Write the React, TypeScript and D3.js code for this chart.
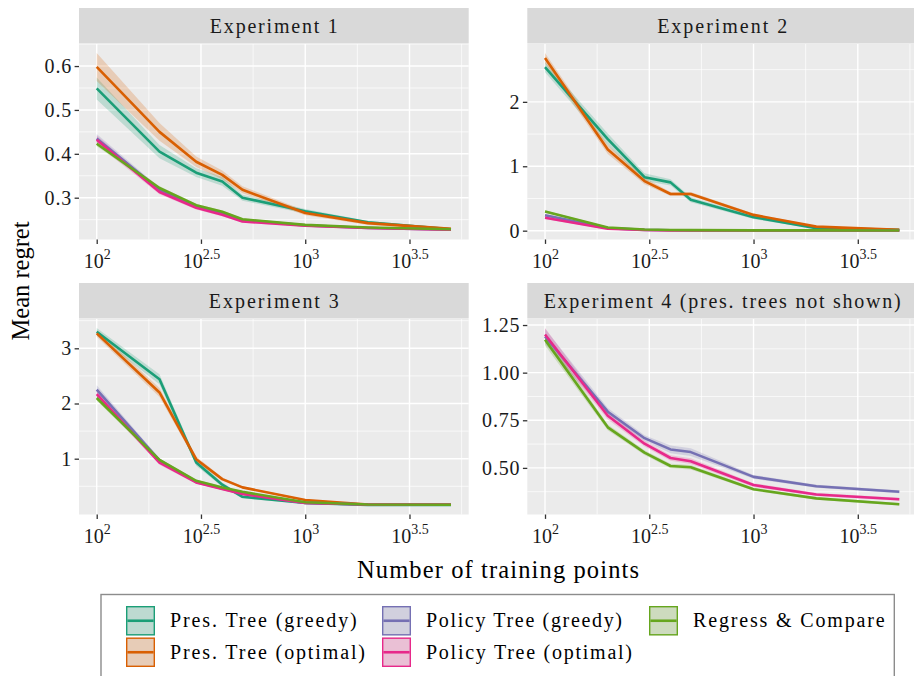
import React, { useEffect, useRef } from 'react';
import * as d3 from 'd3';

const trainingPoints = [100, 200, 300, 400, 500, 1000, 2000, 5000];

const methodNames = [
  'Pres. Tree (greedy)',
  'Pres. Tree (optimal)',
  'Policy Tree (greedy)',
  'Policy Tree (optimal)',
  'Regress & Compare',
];
const methodColors = ['#1B9E77', '#D95F02', '#7570B3', '#E7298A', '#66A61E'];

// Experiment 1
const e1PresGreedy = [0.549, 0.405, 0.357, 0.337, 0.3, 0.269, 0.244, 0.228];
const e1PresOptimal = [0.598, 0.45, 0.382, 0.352, 0.318, 0.265, 0.242, 0.229];
const e1PolicyGreedy = [0.435, 0.318, 0.28, 0.264, 0.249, 0.237, 0.231, 0.227];
const e1PolicyOptimal = [0.432, 0.313, 0.277, 0.261, 0.246, 0.236, 0.231, 0.227];
const e1Regress = [0.423, 0.322, 0.283, 0.268, 0.251, 0.238, 0.232, 0.228];
const e1PresGreedyErr = [0.025, 0.015, 0.01, 0.01, 0.007, 0.005, 0.003, 0.003];
const e1PresOptimalErr = [0.032, 0.02, 0.012, 0.01, 0.008, 0.005, 0.004, 0.003];
const e1PolicyGreedyErr = [0.01, 0.005, 0.004, 0.003, 0.003, 0.002, 0.002, 0.002];
const e1PolicyOptimalErr = [0.01, 0.005, 0.004, 0.003, 0.003, 0.002, 0.002, 0.002];
const e1RegressErr = [0.006, 0.004, 0.003, 0.003, 0.002, 0.002, 0.002, 0.002];

// Experiment 2
const e2PresGreedy = [2.54, 1.42, 0.83, 0.75, 0.48, 0.21, 0.04, 0.012];
const e2PresOptimal = [2.68, 1.26, 0.77, 0.57, 0.57, 0.245, 0.063, 0.012];
const e2PolicyGreedy = [0.24, 0.04, 0.012, 0.006, 0.005, 0.004, 0.003, 0.003];
const e2PolicyOptimal = [0.2, 0.03, 0.01, 0.005, 0.004, 0.003, 0.003, 0.003];
const e2Regress = [0.297, 0.05, 0.018, 0.01, 0.008, 0.005, 0.004, 0.003];
const e2PresGreedyErr = [0.08, 0.09, 0.06, 0.05, 0.04, 0.03, 0.01, 0.008];
const e2PresOptimalErr = [0.08, 0.07, 0.05, 0.03, 0.03, 0.02, 0.01, 0.008];
const e2PolicyGreedyErr = [0.02, 0.01, 0.005, 0.003, 0.002, 0.002, 0.001, 0.001];
const e2PolicyOptimalErr = [0.02, 0.01, 0.005, 0.003, 0.002, 0.002, 0.001, 0.001];
const e2RegressErr = [0.02, 0.01, 0.005, 0.003, 0.002, 0.002, 0.001, 0.001];

// Experiment 3
const e3PresGreedy = [3.3, 2.44, 0.93, 0.53, 0.31, 0.2, 0.16, 0.16];
const e3PresOptimal = [3.27, 2.2, 0.99, 0.63, 0.48, 0.25, 0.17, 0.17];
const e3PolicyGreedy = [2.25, 0.97, 0.58, 0.46, 0.37, 0.2, 0.17, 0.165];
const e3PolicyOptimal = [2.17, 0.93, 0.57, 0.45, 0.36, 0.2, 0.17, 0.165];
const e3Regress = [2.1, 0.98, 0.6, 0.48, 0.4, 0.21, 0.17, 0.165];
const e3PresGreedyErr = [0.07, 0.09, 0.06, 0.04, 0.03, 0.015, 0.01, 0.01];
const e3PresOptimalErr = [0.06, 0.08, 0.05, 0.03, 0.02, 0.015, 0.01, 0.01];
const e3PolicyGreedyErr = [0.08, 0.04, 0.03, 0.02, 0.02, 0.01, 0.01, 0.01];
const e3PolicyOptimalErr = [0.07, 0.04, 0.03, 0.02, 0.02, 0.01, 0.01, 0.01];
const e3RegressErr = [0.05, 0.03, 0.02, 0.02, 0.015, 0.01, 0.01, 0.01];

// Experiment 4 (pres. trees not shown)
const e4PolicyGreedy = [1.19, 0.795, 0.656, 0.597, 0.583, 0.453, 0.404, 0.375];
const e4PolicyOptimal = [1.2, 0.774, 0.627, 0.552, 0.535, 0.41, 0.36, 0.335];
const e4Regress = [1.173, 0.713, 0.58, 0.51, 0.503, 0.388, 0.34, 0.309];
const e4PolicyGreedyErr = [0.04, 0.02, 0.015, 0.02, 0.02, 0.01, 0.008, 0.008];
const e4PolicyOptimalErr = [0.035, 0.02, 0.015, 0.015, 0.015, 0.01, 0.008, 0.008];
const e4RegressErr = [0.03, 0.015, 0.012, 0.012, 0.012, 0.008, 0.007, 0.007];

const e1Ticks = [0.3, 0.4, 0.5, 0.6];
const e1TickLabels = ['0.3', '0.4', '0.5', '0.6'];
const e2Ticks = [0, 1, 2];
const e2TickLabels = ['0', '1', '2'];
const e3Ticks = [1, 2, 3];
const e3TickLabels = ['1', '2', '3'];
const e4Ticks = [0.5, 0.75, 1.0, 1.25];
const e4TickLabels = ['0.50', '0.75', '1.00', '1.25'];

const xTickPowers = [2, 2.5, 3, 3.5];
const xTickLabels = ['2', '2.5', '3', '3.5'];

const FONT = '"Liberation Serif", "Times New Roman", serif';

type Series = { method: number; mean: number[]; err: number[] };
type Panel = { title: string; titleWidth: number; series: Series[]; ticks: number[]; tickLabels: string[] };

const panels: Panel[] = [
  {
    title: 'Experiment 1', titleWidth: 128,
    series: [
      { method: 0, mean: e1PresGreedy, err: e1PresGreedyErr },
      { method: 1, mean: e1PresOptimal, err: e1PresOptimalErr },
      { method: 2, mean: e1PolicyGreedy, err: e1PolicyGreedyErr },
      { method: 3, mean: e1PolicyOptimal, err: e1PolicyOptimalErr },
      { method: 4, mean: e1Regress, err: e1RegressErr },
    ],
    ticks: e1Ticks, tickLabels: e1TickLabels,
  },
  {
    title: 'Experiment 2', titleWidth: 130,
    series: [
      { method: 0, mean: e2PresGreedy, err: e2PresGreedyErr },
      { method: 1, mean: e2PresOptimal, err: e2PresOptimalErr },
      { method: 2, mean: e2PolicyGreedy, err: e2PolicyGreedyErr },
      { method: 3, mean: e2PolicyOptimal, err: e2PolicyOptimalErr },
      { method: 4, mean: e2Regress, err: e2RegressErr },
    ],
    ticks: e2Ticks, tickLabels: e2TickLabels,
  },
  {
    title: 'Experiment 3', titleWidth: 130,
    series: [
      { method: 0, mean: e3PresGreedy, err: e3PresGreedyErr },
      { method: 1, mean: e3PresOptimal, err: e3PresOptimalErr },
      { method: 2, mean: e3PolicyGreedy, err: e3PolicyGreedyErr },
      { method: 3, mean: e3PolicyOptimal, err: e3PolicyOptimalErr },
      { method: 4, mean: e3Regress, err: e3RegressErr },
    ],
    ticks: e3Ticks, tickLabels: e3TickLabels,
  },
  {
    title: 'Experiment 4 (pres. trees not shown)', titleWidth: 357,
    series: [
      { method: 2, mean: e4PolicyGreedy, err: e4PolicyGreedyErr },
      { method: 3, mean: e4PolicyOptimal, err: e4PolicyOptimalErr },
      { method: 4, mean: e4Regress, err: e4RegressErr },
    ],
    ticks: e4Ticks, tickLabels: e4TickLabels,
  },
];

const legendWidths = [186.7, 195, 196, 206, 191.7];

export default function App() {
  const ref = useRef<SVGSVGElement>(null);

  useEffect(() => {
    const svg = d3.select(ref.current);
    svg.selectAll('*').remove();

    const colX = [79, 527.3];
    const rowY = [44, 319];
    const plotW = 389.7;
    const plotH = 195.5;
    const stripH = 35.5;

    const lmin = Math.log10(d3.min(trainingPoints) as number);
    const lmax = Math.log10(d3.max(trainingPoints) as number);
    const pad = 0.05 * (lmax - lmin);

    panels.forEach((p, i) => {
      const x0 = colX[i % 2];
      const y0 = rowY[Math.floor(i / 2)];

      const x = d3.scaleLog()
        .domain([10 ** (lmin - pad), 10 ** (lmax + pad)])
        .range([0, plotW]);

      const lo = d3.min(p.series, (s) => d3.min(s.mean, (m, k) => m - s.err[k])) as number;
      const hi = d3.max(p.series, (s) => d3.max(s.mean, (m, k) => m + s.err[k])) as number;
      const yp = 0.05 * (hi - lo);
      const y = d3.scaleLinear().domain([lo - yp, hi + yp]).range([plotH, 0]);

      const g = svg.append('g').attr('transform', `translate(${x0},${y0})`);

      g.append('rect')
        .attr('width', plotW)
        .attr('height', plotH)
        .attr('fill', '#EBEBEB');

      // minor grid
      const step = p.ticks[1] - p.ticks[0];
      const yMinor = d3.range(p.ticks[0] - step / 2, p.ticks[p.ticks.length - 1] + step, step)
        .filter((v) => v >= y.domain()[0] && v <= y.domain()[1]);
      g.selectAll('.ymin').data(yMinor).enter().append('line')
        .attr('x1', 0).attr('x2', plotW)
        .attr('y1', (d) => y(d)).attr('y2', (d) => y(d))
        .attr('stroke', 'white').attr('stroke-width', 0.7);
      const xMinor = [1.75, 2.25, 2.75, 3.25, 3.75].map((e) => 10 ** e)
        .filter((v) => v >= x.domain()[0] && v <= x.domain()[1]);
      g.selectAll('.xmin').data(xMinor).enter().append('line')
        .attr('y1', 0).attr('y2', plotH)
        .attr('x1', (d) => x(d)).attr('x2', (d) => x(d))
        .attr('stroke', 'white').attr('stroke-width', 0.7);

      // major grid
      g.selectAll('.ymaj').data(p.ticks).enter().append('line')
        .attr('x1', 0).attr('x2', plotW)
        .attr('y1', (d) => y(d)).attr('y2', (d) => y(d))
        .attr('stroke', 'white').attr('stroke-width', 1.4);
      g.selectAll('.xmaj').data(xTickPowers).enter().append('line')
        .attr('y1', 0).attr('y2', plotH)
        .attr('x1', (d) => x(10 ** d)).attr('x2', (d) => x(10 ** d))
        .attr('stroke', 'white').attr('stroke-width', 1.4);

      // ribbons first, then lines
      const area = d3.area<number>()
        .x((_, k) => x(trainingPoints[k]));
      p.series.forEach((s) => {
        g.append('path')
          .datum(s.mean)
          .attr('d', area
            .y0((m, k) => y(m - s.err[k]))
            .y1((m, k) => y(m + s.err[k])))
          .attr('fill', methodColors[s.method])
          .attr('fill-opacity', 0.22);
      });
      const line = d3.line<number>()
        .x((_, k) => x(trainingPoints[k]))
        .y((m) => y(m));
      p.series.forEach((s) => {
        g.append('path')
          .datum(s.mean)
          .attr('d', line)
          .attr('fill', 'none')
          .attr('stroke', methodColors[s.method])
          .attr('stroke-width', 2.6)
          .attr('stroke-linejoin', 'round');
      });

      // strip
      g.append('rect')
        .attr('y', -stripH - 0.5)
        .attr('width', plotW)
        .attr('height', stripH)
        .attr('fill', '#D9D9D9');
      g.append('text')
        .attr('x', plotW / 2)
        .attr('y', -stripH / 2 + 6.5)
        .attr('text-anchor', 'middle')
        .attr('font-family', FONT)
        .attr('font-size', 20)
        .attr('fill', '#1A1A1A')
        .attr('textLength', p.titleWidth)
        .attr('lengthAdjust', 'spacing')
        .text(p.title);

      // y axis
      const yAxis = g.append('g').call(
        d3.axisLeft(y)
          .tickValues(p.ticks)
          .tickFormat((_, k) => p.tickLabels[k])
          .tickSize(4.4)
          .tickPadding(2.6)
      );
      yAxis.select('.domain').remove();
      yAxis.selectAll('line').attr('stroke', '#333').attr('stroke-width', 1.3);
      yAxis.selectAll('text')
        .attr('font-family', FONT)
        .attr('font-size', 20)
        .attr('letter-spacing', 0.8)
        .attr('fill', '#1A1A1A');

      // x axis
      const xAxis = g.append('g')
        .attr('transform', `translate(0,${plotH})`)
        .call(
          d3.axisBottom(x)
            .tickValues(xTickPowers.map((d) => 10 ** d))
            .tickFormat(() => '')
            .tickSize(4.4)
        );
      xAxis.select('.domain').remove();
      xAxis.selectAll('line').attr('stroke', '#333').attr('stroke-width', 1.3);
      xAxis.selectAll<SVGTextElement, number>('text').each(function (_, k) {
        const t = d3.select(this)
          .attr('y', 28.5)
          .attr('dy', null)
          .attr('font-family', FONT)
          .attr('font-size', 20)
          .attr('fill', '#1A1A1A')
          .text('10');
        t.append('tspan')
          .attr('dy', -9)
          .attr('font-size', 14)
          .text(xTickLabels[k]);
      });
    });

    // axis titles
    svg.append('text')
      .attr('x', 498)
      .attr('y', 578)
      .attr('text-anchor', 'middle')
      .attr('font-family', FONT)
      .attr('font-size', 24.5)
      .attr('fill', '#000')
      .attr('textLength', 282)
      .attr('lengthAdjust', 'spacing')
      .text('Number of training points');
    svg.append('text')
      .attr('transform', 'translate(28.5,281) rotate(-90)')
      .attr('text-anchor', 'middle')
      .attr('font-family', FONT)
      .attr('font-size', 24.5)
      .attr('fill', '#000')
      .text('Mean regret');

    // legend
    const legend = svg.append('g');
    legend.append('rect')
      .attr('x', 101)
      .attr('y', 594.5)
      .attr('width', 793.3)
      .attr('height', 100)
      .attr('fill', 'white')
      .attr('stroke', '#8C8C8C')
      .attr('stroke-width', 1.4);
    const keyCols = [126, 382, 649];
    const keyRows = [606, 637.5];
    methodNames.forEach((name, i) => {
      const kx = keyCols[Math.floor(i / 2)];
      const ky = keyRows[i % 2];
      const c = methodColors[i];
      legend.append('rect')
        .attr('x', kx).attr('y', ky)
        .attr('width', 29).attr('height', 29.5)
        .attr('fill', '#EBEBEB');
      legend.append('rect')
        .attr('x', kx + 0.7).attr('y', ky + 0.7)
        .attr('width', 27.6).attr('height', 28.1)
        .attr('fill', c).attr('fill-opacity', 0.22)
        .attr('stroke', c).attr('stroke-width', 1.4);
      legend.append('line')
        .attr('x1', kx + 1.4).attr('x2', kx + 27.6)
        .attr('y1', ky + 14.75).attr('y2', ky + 14.75)
        .attr('stroke', c).attr('stroke-width', 2.6);
      legend.append('text')
        .attr('x', kx + 44)
        .attr('y', ky + 21.3)
        .attr('font-family', FONT)
        .attr('font-size', 20)
        .attr('fill', '#000')
        .attr('textLength', legendWidths[i])
        .attr('lengthAdjust', 'spacing')
        .text(name);
    });
  }, []);

  return (
    <svg
      ref={ref}
      width={914}
      height={676}
      style={{ position: 'absolute', left: 0, top: 0, background: 'white' }}
    />
  );
}
